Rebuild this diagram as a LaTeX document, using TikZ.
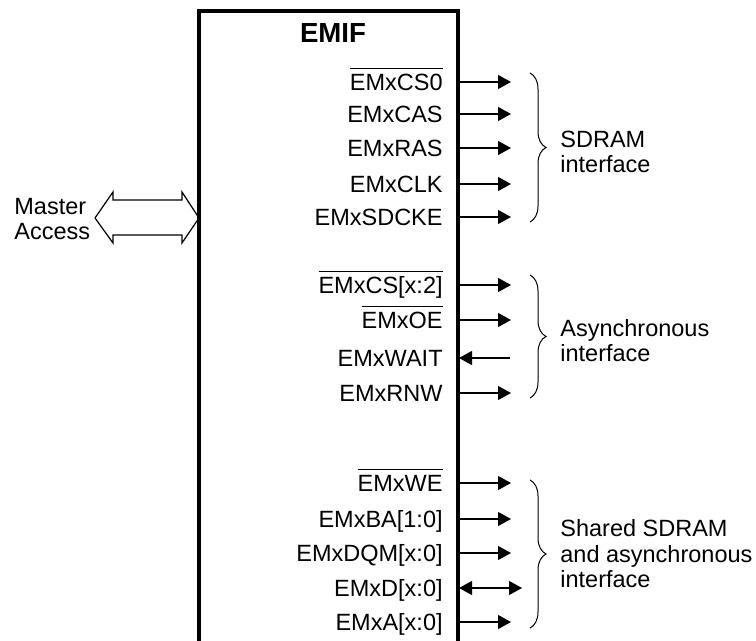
\documentclass[tikz,border=0pt]{standalone}
\usepackage{fontspec}
\setmainfont{Liberation Sans}
\usepackage{tikz}
\usetikzlibrary{arrows.meta, decorations.pathreplacing}
\newcommand{\ovl}[1]{$\overline{\mbox{#1\rule{0pt}{10pt}}}$}

\begin{document}
\begin{tikzpicture}[x=0.5pt, y=-0.5pt, >={Triangle[length=6.5pt, width=7pt]},
    every node/.style={inner sep=0pt, font=\fontsize{11.75}{12.75}\selectfont},
    sig/.style={anchor=base east},
    wire/.style={line width=0.6pt},
    brc/.style={line width=0.5pt, decorate, decoration={brace, amplitude=8pt}},
    note/.style={anchor=base west, align=left}]
  \useasboundingbox (0,0) rectangle (756,641);
  % EMIF block, open at the bottom
  \draw[line width=1.6pt] (199,641) |- (458,11) -- (458,641);
  \node[anchor=base, font=\fontsize{13.8}{16}\selectfont\bfseries] (emif) at (333,43) {EMIF};
  % master port
  \node[note] (master) at (14,240) {Master\\Access};
  \draw[wire] (95,218) -- (113,192) -- (113,200) -- (182,200) -- (182,192) -- (199,218)
     -- (182,243) -- (182,235) -- (113,235) -- (113,243) -- cycle;
  % signals: name / arrow y / arrow end / label
  \foreach \n/\y/\e/\t in {cs0/82/511/{\ovl{EMxCS0}}, cas/114/511/EMxCAS, ras/148/511/EMxRAS,
      clk/184/511/EMxCLK, sdcke/217/511/EMxSDCKE, csx/285/511/{\ovl{EMxCS[x:2]}},
      oe/320/511/{\ovl{EMxOE}}, wait/358/510/EMxWAIT, rnw/393/511/EMxRNW,
      we/483/511/{\ovl{EMxWE}}, ba/519/511/{EMxBA[1:0]}, dqm/553/511/{EMxDQM[x:0]},
      d/588/522/{EMxD[x:0]}, a/622/511/{EMxA[x:0]}} {
    \node[sig] (\n) at (443,\y+9) {\t};
    \coordinate (\n-a) at (459,\y);
    \coordinate (\n-b) at (\e,\y);
  }
  \foreach \n in {cs0,cas,ras,clk,sdcke,csx,oe,rnw,we,ba,dqm,a}
    \draw[wire, ->] (\n-a) -- (\n-b);
  \draw[wire, ->] (wait-b) -- (wait-a);
  \draw[wire, <->] (d-a) -- (d-b);
  % interface groups
  \draw[brc] (530,73) -- (530,222);
  \draw[brc] (530,275) -- (530,398);
  \draw[brc] (530,480) -- (530,628);
  \node[note] (sdram) at (560,173) {SDRAM\\interface};
  \node[note] (async) at (560,362) {Asynchronous\\interface};
  \node[note] (shared) at (560,588) {Shared SDRAM\\and asynchronous\\interface};
\end{tikzpicture}
\end{document}
